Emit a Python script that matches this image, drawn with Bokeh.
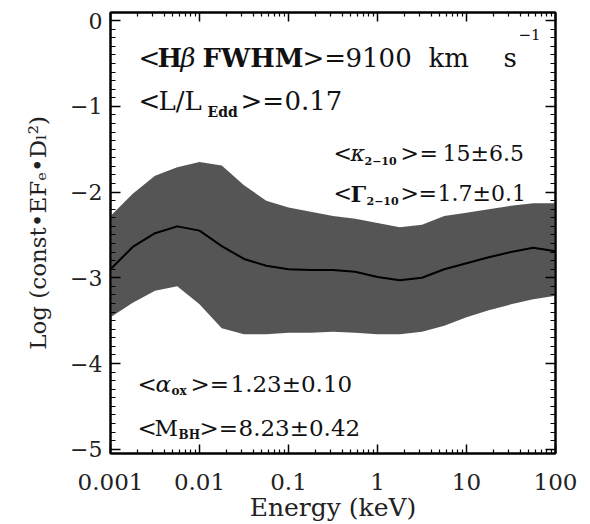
import numpy as np
from bokeh.plotting import figure
from bokeh.models import Range1d, FixedTicker, LogAxis, LinearAxis, Label, CustomJSTickFormatter
from bokeh.embed import file_html
from bokeh.resources import INLINE

# ---------------- data ----------------
log_energy = [-3.0, -2.75, -2.5, -2.25, -2.0, -1.75, -1.5, -1.25, -1.0, -0.75, -0.5,
              -0.25, 0.0, 0.25, 0.5, 0.75, 1.0, 1.25, 1.5, 1.75, 2.0]
sed_mean = [-2.90, -2.64, -2.48, -2.40, -2.45, -2.63, -2.78, -2.86, -2.90, -2.91, -2.91,
            -2.93, -2.99, -3.03, -3.00, -2.90, -2.83, -2.76, -2.70, -2.65, -2.69]
sed_upper = [-2.28, -2.02, -1.81, -1.71, -1.65, -1.69, -1.92, -2.10, -2.18, -2.23, -2.28,
             -2.31, -2.36, -2.41, -2.38, -2.28, -2.24, -2.20, -2.16, -2.13, -2.13]
sed_lower = [-3.46, -3.29, -3.15, -3.10, -3.31, -3.59, -3.66, -3.66, -3.64, -3.64, -3.63,
             -3.64, -3.66, -3.66, -3.63, -3.56, -3.46, -3.38, -3.31, -3.25, -3.21]

x_tick_values = [0.001, 0.01, 0.1, 1, 10, 100]
x_tick_labels = ["0.001", "0.01", "0.1", "1", "10", "100"]
y_tick_values = [-5, -4, -3, -2, -1, 0]
y_tick_labels = ["\u22125", "\u22124", "\u22123", "\u22122", "\u22121", "0"]

energy = [10 ** v for v in log_energy]

FONT = "DejaVu Serif"

p = figure(width=590, height=524, x_axis_type="log",
           x_range=Range1d(0.001, 100), y_range=Range1d(-5.05, 0.095),
           output_backend="svg", toolbar_location=None,
           min_border_left=110, min_border_right=35, min_border_top=12, min_border_bottom=71)
p.grid.visible = False
p.outline_line_color = "black"
p.outline_line_width = 2
p.background_fill_color = "white"
p.border_fill_color = "white"

p.varea(x=energy, y1=sed_lower, y2=sed_upper, fill_color="#555555", fill_alpha=1.0)
p.line(x=energy, y=sed_mean, line_color="black", line_width=2)

# ticks
x_minor = [k * 10.0 ** e for e in range(-3, 2) for k in range(2, 10)]
y_minor = [round(-5 + 0.1 * i, 2) for i in range(51)]

fmt_code = """
let i = -1;
for (let k = 0; k < values.length; k++) {
  if (Math.abs(values[k] - tick) <= 1e-6 * Math.max(1e-12, Math.abs(values[k]))) { i = k; }
}
return i >= 0 ? labels[i] : '';
"""


def style_axis(ax, labels=True):
    ax.axis_line_color = "black"
    ax.axis_line_width = 2
    ax.major_tick_in = 10
    ax.major_tick_out = 0
    ax.minor_tick_in = 5
    ax.minor_tick_out = 0
    ax.major_tick_line_width = 1.5
    ax.minor_tick_line_width = 1.2
    ax.major_tick_line_color = "black"
    ax.minor_tick_line_color = "black"
    if labels:
        ax.major_label_text_font = FONT
        ax.major_label_text_font_size = "22px"
        ax.major_label_text_color = "#222222"
        ax.axis_label_text_font = FONT
        ax.axis_label_text_font_style = "normal"
        ax.axis_label_text_color = "#222222"
    else:
        ax.major_label_text_font_size = "1px"
        ax.major_label_text_alpha = 0
        ax.major_label_standoff = 0


xa = p.xaxis[0]
xa.ticker = FixedTicker(ticks=x_tick_values, minor_ticks=x_minor)
xa.formatter = CustomJSTickFormatter(args=dict(values=x_tick_values, labels=x_tick_labels),
                                     code=fmt_code)
style_axis(xa)
xa.major_label_text_font_size = "23px"
xa.major_tick_in = 9
xa.minor_tick_in = 4
xa.major_label_standoff = 20
xa.axis_label = "Energy (keV)"
xa.axis_label_text_font_size = "25px"
xa.axis_label_standoff = 0

ya = p.yaxis[0]
ya.ticker = FixedTicker(ticks=y_tick_values, minor_ticks=y_minor)
ya.formatter = CustomJSTickFormatter(args=dict(values=y_tick_values, labels=y_tick_labels),
                                     code=fmt_code)
style_axis(ya)
ya.major_label_standoff = 8
ya.axis_label = "Log (const\u2022EF\u2091\u2022D\u2097\u00b2)"
ya.axis_label_text_font_size = "23px"
ya.axis_label_standoff = 16

top = LogAxis(ticker=FixedTicker(ticks=x_tick_values, minor_ticks=x_minor))
style_axis(top, labels=False)
top.major_tick_in = 9
top.minor_tick_in = 4
p.add_layout(top, "above")

right = LinearAxis(ticker=FixedTicker(ticks=y_tick_values, minor_ticks=y_minor))
style_axis(right, labels=False)
p.add_layout(right, "right")


# ---------------- annotations (positions given in reference pixels) ----------------
def to_data(px, py):
    return 10 ** (-3 + (px - 110) / 89.0), (20 - py) / 85.6


pieces = [
    # text, px, py(baseline), size, style
    ("<", 138, 57, 26, "normal"),
    ("H", 157, 57, 26, "bold"),
    ("\u03b2", 180, 57, 26, "italic"),
    ("FWHM", 202, 57, 26, "bold"),
    (">=", 302, 57, 26, "normal"),
    ("9100", 345, 57, 26, "normal"),
    ("km", 428, 57, 26, "normal"),
    ("s", 503, 57, 26, "normal"),
    ("\u22121", 518, 34, 15, "normal"),

    ("<", 138, 100, 26, "normal"),
    ("L/L", 158, 100, 26, "normal"),
    ("Edd", 207, 111, 14, "bold"),
    (">=", 240, 100, 26, "normal"),
    ("0.17", 284, 100, 26, "normal"),

    ("<", 333, 153, 22, "normal"),
    ("\u03ba", 350, 153, 22, "italic"),
    ("2\u221210", 364, 160, 11, "bold"),
    (">", 400, 153, 22, "normal"),
    ("=", 419, 153, 22, "normal"),
    ("15\u00b16.5", 442, 153, 22, "normal"),

    ("<", 333, 193, 22, "normal"),
    ("\u0393", 350, 193, 22, "bold"),
    ("2\u221210", 366, 200, 11, "bold"),
    (">", 400, 193, 22, "normal"),
    ("=", 418, 193, 22, "normal"),
    ("1.7\u00b10.1", 437, 193, 22, "normal"),

    ("<", 137, 383, 23, "normal"),
    ("\u03b1", 155, 383, 23, "italic"),
    ("ox", 171, 390, 12, "bold"),
    (">=", 190, 383, 23, "normal"),
    ("1.23\u00b10.10", 230, 383, 23, "normal"),

    ("<", 137, 427, 23, "normal"),
    ("M", 154, 427, 23, "normal"),
    ("BH", 178, 434, 12, "bold"),
    (">=", 199, 427, 23, "normal"),
    ("8.23\u00b10.42", 238, 427, 23, "normal"),
]

for txt, px, py, size, style in pieces:
    x, y = to_data(px, py)
    p.add_layout(Label(x=x, y=y, text=txt, text_font=FONT, text_font_size=f"{size}px",
                       text_font_style=style, text_color="#111111",
                       text_align="left", text_baseline="alphabetic"))

open("out.html", "w").write(file_html(p, INLINE))
